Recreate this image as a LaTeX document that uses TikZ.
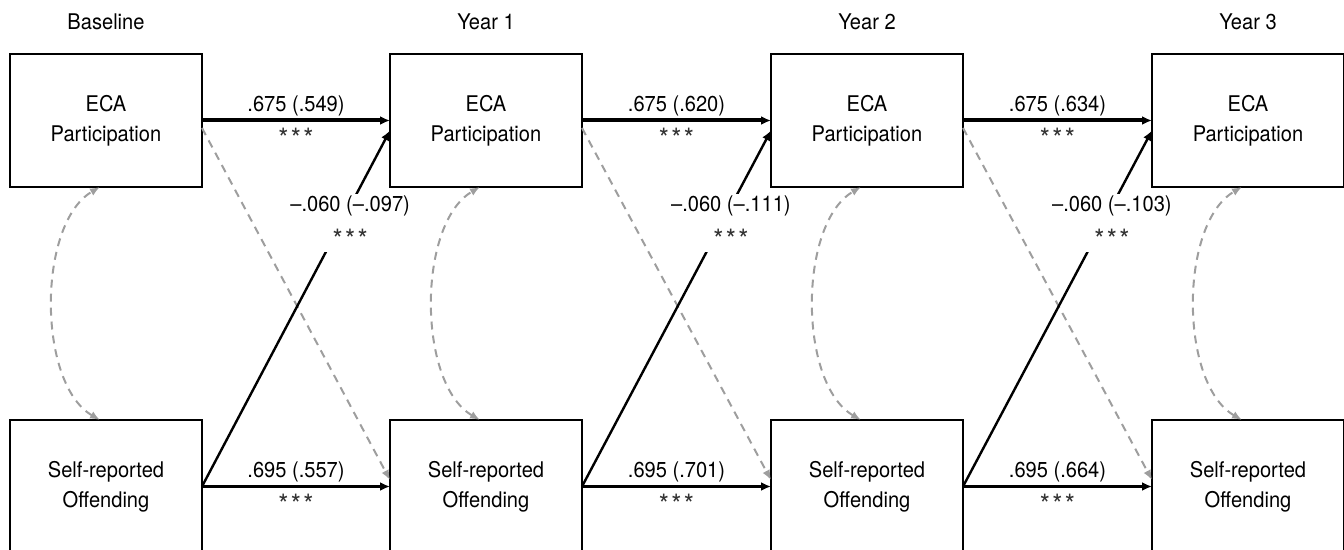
\documentclass[tikz,border=0pt]{standalone}
\usepackage{fontspec}
\setmainfont{TeX Gyre Heros}[FakeStretch=0.93]
\usetikzlibrary{arrows.meta}
\definecolor{corrgray}{gray}{0.62}
\newcommand{\stars}{{\fontsize{14}{15}\selectfont\color{black!80}*\kern1.2pt*\kern1.2pt*}}

\begin{document}
\begin{tikzpicture}[x=0.5pt,y=0.5pt,
  font=\fontsize{10.8}{15}\selectfont,
  var/.style={draw,line width=1.2pt,minimum width=96pt,minimum height=66.5pt,
    align=center,inner sep=0pt,outer sep=0pt},
  reg/.style={line width=1.3pt,-{Latex[length=5pt,width=4.5pt]}},
  stab/.style={reg,line width=2pt},
  cross/.style={line width=1.2pt,-{Latex[length=5pt,width=4.5pt]}},
  dgray/.style={corrgray,line width=1pt,dash pattern=on 4pt off 3pt,
    -{Latex[length=5pt,width=4pt]}},
  corr/.style={dgray,{Latex[length=5pt,width=4pt]}-{Latex[length=5pt,width=4pt]}},
  coef/.style={above,inner sep=2.4pt,outer sep=0pt},
  sig/.style={below,inner sep=3.75pt,outer sep=0pt},
  gap/.style={fill=white,inner sep=1pt,align=center}]
\useasboundingbox (0,0) rectangle (1344,-550);
% time points
\node (bl) at (106,-22) {Baseline};
\node (yr1) at (486,-22) {Year 1};
\node (yr2) at (867,-22) {Year 2};
\node (yr3) at (1248,-22) {Year 3};
% ECA participation
\node[var] (eca0) at (106,-120.5) {ECA\\Participation};
\node[var] (eca1) at (486,-120.5) {ECA\\Participation};
\node[var] (eca2) at (867,-120.5) {ECA\\Participation};
\node[var] (eca3) at (1248,-120.5) {ECA\\Participation};
% offending
\node[var] (sro0) at (106,-486.5) {Self-reported\\Offending};
\node[var] (sro1) at (486,-486.5) {Self-reported\\Offending};
\node[var] (sro2) at (867,-486.5) {Self-reported\\Offending};
\node[var] (sro3) at (1248,-486.5) {Self-reported\\Offending};
% within-wave correlations
\foreach \i in {0,...,3}
  \draw[corr] ([xshift=-3pt]sro\i.north) to[out=150,in=210,looseness=0.8]
    ([xshift=-3pt]eca\i.south);
% ECA -> offending (n.s.)
\draw[dgray] ([yshift=-3.75pt]eca0.east) -- ([yshift=3.25pt]sro1.west);
\draw[dgray] ([yshift=-3.75pt]eca1.east) -- ([yshift=3.25pt]sro2.west);
\draw[dgray] ([yshift=-3.75pt]eca2.east) -- ([yshift=3.25pt]sro3.west);
% offending -> ECA
\draw[cross] (sro0.east) -- node[gap,pos=0.74,xshift=4.5pt]
  {–.060 (–.097)\\[4pt]\stars} ([yshift=-5pt]eca1.west);
\draw[cross] (sro1.east) -- node[gap,pos=0.74,xshift=4.5pt]
  {–.060 (–.111)\\[4pt]\stars} ([yshift=-5pt]eca2.west);
\draw[cross] (sro2.east) -- node[gap,pos=0.74,xshift=4.5pt]
  {–.060 (–.103)\\[4pt]\stars} ([yshift=-5pt]eca3.west);
% stability paths
\draw[stab] (eca0.east) -- node[coef] {.675 (.549)} node[sig] {\stars} (eca1.west);
\draw[stab] (eca1.east) -- node[coef] {.675 (.620)} node[sig] {\stars} (eca2.west);
\draw[stab] (eca2.east) -- node[coef] {.675 (.634)} node[sig] {\stars} (eca3.west);
\draw[reg] (sro0.east) -- node[coef] {.695 (.557)} node[sig] {\stars} (sro1.west);
\draw[reg] (sro1.east) -- node[coef] {.695 (.701)} node[sig] {\stars} (sro2.west);
\draw[reg] (sro2.east) -- node[coef] {.695 (.664)} node[sig] {\stars} (sro3.west);
\end{tikzpicture}
\end{document}
